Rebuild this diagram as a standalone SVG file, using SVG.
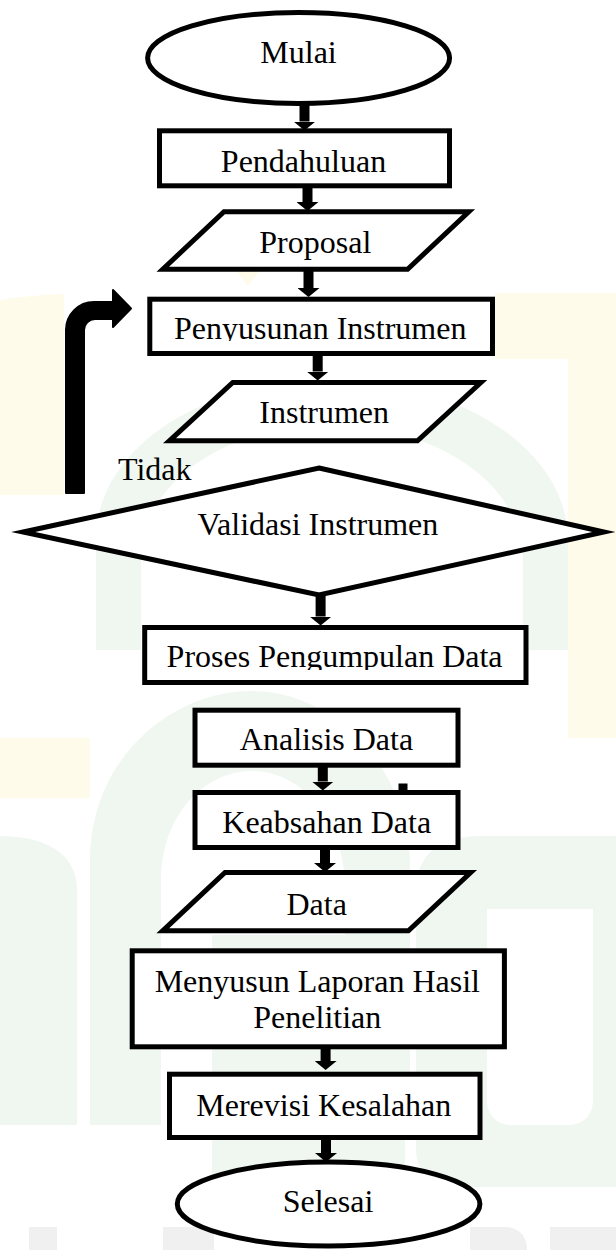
<svg xmlns="http://www.w3.org/2000/svg" width="616" height="1250" viewBox="0 0 616 1250">
<style>
.n{fill:#fff;stroke:#000;stroke-width:5;stroke-miterlimit:12}
.t{font-family:"Liberation Serif","Times New Roman",serif;font-size:32px;fill:#000;text-anchor:middle}
.c{stroke:#000;stroke-width:10;fill:none;marker-end:url(#ah)}
.wg{fill:#f0f7f0}
.wy{fill:#fffbea}
.wk{fill:#f0f0f0}
.ww{fill:#fff}
</style>
<defs>
<marker id="ah" markerUnits="userSpaceOnUse" viewBox="0 -11 9 22" refX="0" refY="0" markerWidth="9" markerHeight="22" orient="auto"><path d="M0,-11 L9,0 L0,11 Z" fill="#000"/></marker>
<clipPath id="cp1"><rect x="140" y="296" width="360" height="45"/></clipPath>
<clipPath id="cp2"><rect x="140" y="625" width="390" height="45"/></clipPath>
</defs>
<rect width="616" height="1250" fill="#fff"/>
<g id="watermark">
<path class="wy" d="M0 300 Q30 295 64 294 L64 495 L0 495 Z"/>
<rect class="wy" x="495" y="293" width="121" height="66"/>
<rect class="wy" x="568" y="293" width="48" height="445"/>
<polygon class="wy" points="248,226 274,252 248,286 222,252"/>
<path class="wg" d="M96 650 L96 540 C96 450 200 380 330 380 C460 380 568 450 568 540 L568 650 L523 650 L523 560 C523 480 430 425 330 425 C230 425 141 480 141 560 L141 650 Z"/>
<rect class="wy" x="0" y="738" width="90" height="60"/>
<polygon class="wy" points="206,771 236,820 206,862 177,820"/>
<path class="wg" d="M90 1125 L90 860 C90 760 170 691 251 691 C330 691 405 760 410 860 L410 1125 Z"/>
<path class="ww" d="M161 1125 L161 880 C161 815 205 771 251 771 C300 771 340 815 345 880 L345 1125 Z"/>
<rect class="wg" x="212" y="935" width="193" height="254"/>
<path class="wg" d="M0 836 C40 836 77 850 77 890 L77 1125 L0 1125 Z"/>
<path class="wg" fill-rule="evenodd" d="M416 1150 L416 890 C416 855 440 836 480 836 L616 836 L616 1187 L450 1187 C430 1187 416 1170 416 1150 Z M487 909 L593 909 L593 1100 C593 1115 583 1125 568 1125 L512 1125 C497 1125 487 1115 487 1100 Z"/>
<rect class="wk" x="29" y="1227" width="28" height="23"/>
<rect class="wk" x="163" y="1227" width="51" height="23"/>
<path class="wk" d="M470 1227 L505 1227 C520 1227 527 1237 527 1250 L470 1250 Z"/>
<rect class="wk" x="550" y="1227" width="66" height="23"/>
</g>
<g id="connectors">
<line class="c" x1="304.5" y1="103" x2="304.5" y2="121.5"/>
<line class="c" x1="307.5" y1="186" x2="307.5" y2="202"/>
<line class="c" x1="308.5" y1="270" x2="308.5" y2="288"/>
<line class="c" x1="317.7" y1="354" x2="317.7" y2="371.5"/>
<line class="c" x1="320.6" y1="594" x2="320.6" y2="616.5"/>
<line class="c" x1="322.8" y1="766" x2="322.8" y2="781.5"/>
<line class="c" x1="325" y1="848" x2="325" y2="863"/>
<line class="c" x1="325.6" y1="1043" x2="325.6" y2="1061"/>
<line class="c" x1="326" y1="1135" x2="326" y2="1153"/>
<rect x="398.5" y="783.5" width="9" height="6.5" fill="#000"/>
<path id="loop-tidak" d="M66 493 L66 330 A28 28 0 0 1 94 302 L113 302 L113 290 L131 308.5 L113 327 L113 319 L95 319 A11 11 0 0 0 84 330 L84 493 Z" fill="#000" stroke="#000" stroke-width="2" stroke-linejoin="round"/>
</g>
<g id="n-mulai"><ellipse class="n" cx="298.6" cy="58" rx="151" ry="45.5"/><text class="t" x="298.5" y="63.3">Mulai</text></g>
<g id="n-pendahuluan"><rect class="n" x="159.5" y="130.8" width="290" height="55"/><text class="t" x="303.5" y="171.7">Pendahuluan</text></g>
<g id="n-proposal"><polygon class="n" points="224,211.8 468.8,211.8 407.6,269.2 162.8,269.2"/><text class="t" x="315.3" y="253.3">Proposal</text></g>
<g id="n-penyusunan"><rect class="n" x="149.8" y="299.2" width="342.7" height="54.3"/><text class="t" x="320.2" y="339" clip-path="url(#cp1)">Penyusunan Instrumen</text></g>
<g id="n-instrumen"><polygon class="n" points="232.8,382.5 480.9,382.5 417.5,440.8 169.4,440.8"/><text class="t" x="324.2" y="423.3">Instrumen</text></g>
<g id="n-validasi"><polygon class="n" points="319,468 604,532 319,595 23,532" stroke-width="4.5"/><text class="t" x="317.9" y="535">Validasi Instrumen</text></g>
<g id="label-tidak"><text class="t" x="118" y="480" style="text-anchor:start">Tidak</text></g>
<g id="n-proses"><rect class="n" x="144.7" y="627.5" width="381.3" height="55"/><text class="t" x="334.6" y="666.7" clip-path="url(#cp2)">Proses Pengumpulan Data</text></g>
<g id="n-analisis"><rect class="n" x="195" y="710.2" width="263" height="55"/><text class="t" x="326.5" y="750">Analisis Data</text></g>
<g id="n-keabsahan"><rect class="n" x="195" y="792.5" width="263" height="55"/><text class="t" x="326.7" y="832.7">Keabsahan Data</text></g>
<g id="n-data"><polygon class="n" points="225,872.5 470.7,872.5 408.4,930.8 162.7,930.8"/><text class="t" x="316.7" y="915">Data</text></g>
<g id="n-menyusun"><rect class="n" x="132.2" y="950.8" width="372.2" height="96"/><text class="t" x="317.3" y="991.7">Menyusun Laporan Hasil</text><text class="t" x="317.3" y="1028.3">Penelitian</text></g>
<g id="n-merevisi"><rect class="n" x="169.5" y="1074.2" width="310.5" height="63.3"/><text class="t" x="323.8" y="1116">Merevisi Kesalahan</text></g>
<g id="n-selesai"><ellipse class="n" cx="328.6" cy="1204" rx="151.3" ry="42"/><text class="t" x="328" y="1211.7">Selesai</text></g>
</svg>
